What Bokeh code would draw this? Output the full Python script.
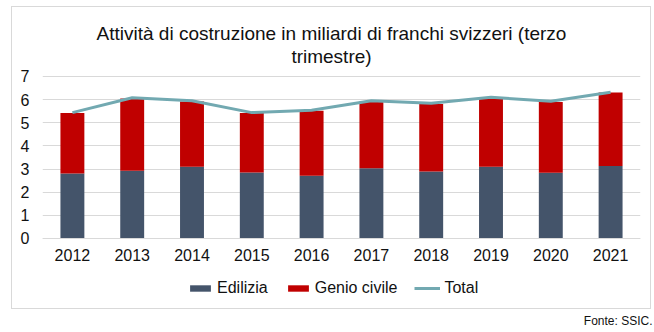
from bokeh.plotting import figure
from bokeh.models import (ColumnDataSource, Legend, LegendItem, FactorRange, Title, Label,
                          Range1d, InlineStyleSheet)
from bokeh.embed import file_html
from bokeh.resources import INLINE

years = ["2012", "2013", "2014", "2015", "2016", "2017", "2018", "2019", "2020", "2021"]
edilizia = [2.81, 2.93, 3.10, 2.85, 2.71, 3.03, 2.90, 3.10, 2.84, 3.13]
genio_civile = [2.61, 3.12, 2.82, 2.57, 2.81, 2.89, 2.91, 2.97, 3.06, 3.18]
total = [5.44, 6.08, 5.95, 5.44, 5.54, 5.95, 5.84, 6.10, 5.93, 6.32]
y_ticks = [0, 1, 2, 3, 4, 5, 6, 7]

title_lines = ["Attività di costruzione in miliardi di franchi svizzeri (terzo", "trimestre)"]
source_note = "Fonte: SSIC."

FONT = "Liberation Sans"
TXT = "#111111"

src = ColumnDataSource(dict(years=years, edilizia=edilizia, genio=genio_civile, total=total))

# frame spans canvas y 0..308 ; value 0 at y=238, value 7 at y=76
p = figure(width=654, height=332, x_range=FactorRange(*years), y_range=Range1d(-3.025, 10.284),
           output_backend="svg", toolbar_location=None, title=None,
           min_border_left=42, min_border_right=14, min_border_top=0, min_border_bottom=24)
p.background_fill_color = "white"
p.border_fill_color = "white"
p.outline_line_color = None
p.stylesheets = [InlineStyleSheet(css=(
    ":host::after { content: ''; position: absolute; left: 11px; top: 6px; "
    "width: 638px; height: 301px; border: 1px solid #D9D9D9; box-sizing: content-box; "
    "pointer-events: none; }"))]

r_stack = p.vbar_stack(["edilizia", "genio"], x="years", width=0.4, source=src,
                       color=["#44546A", "#C00000"], line_color=None)
r_line = p.line(x="years", y="total", source=src, line_color="#72A9B1", line_width=3)

p.xgrid.grid_line_color = None
p.ygrid.grid_line_color = "#D9D9D9"
p.ygrid.grid_line_width = 1
p.yaxis.ticker = y_ticks
p.yaxis.axis_line_color = None
p.yaxis.major_tick_line_color = None
p.yaxis.minor_tick_line_color = None
p.yaxis.major_tick_out = 0
p.yaxis.major_tick_in = 0
p.yaxis.major_label_standoff = 13
p.xaxis.fixed_location = 0
p.xaxis.axis_line_color = "#D9D9D9"
p.xaxis.major_tick_line_color = None
p.xaxis.major_tick_out = 0
p.xaxis.major_tick_in = 0
p.xaxis.major_label_standoff = 11
for ax in (p.xaxis, p.yaxis):
    ax.major_label_text_font = FONT
    ax.major_label_text_font_size = "16px"
    ax.major_label_text_color = TXT

legend = Legend(items=[LegendItem(label="Edilizia", renderers=[r_stack[0]]),
                       LegendItem(label="Genio civile", renderers=[r_stack[1]]),
                       LegendItem(label="Total", renderers=[r_line])],
                orientation="horizontal", location=(145, 11),
                border_line_color=None, background_fill_alpha=0,
                padding=0, margin=0, spacing=17, label_standoff=4,
                glyph_width=26, glyph_height=8,
                label_text_font=FONT, label_text_font_size="16px", label_text_color=TXT)
p.add_layout(legend, "center")

for t, y in zip(title_lines, [275, 252]):
    p.add_layout(Label(x=289, y=y, x_units="screen", y_units="screen", text=t,
                       text_align="center", text_baseline="alphabetic",
                       text_font=FONT, text_font_size="19px", text_color=TXT))

p.add_layout(Title(text=source_note, align="right", offset=-12, standoff=6,
                   text_font=FONT, text_font_size="12px", text_font_style="normal",
                   text_color=TXT), "below")

open("out.html", "w").write(file_html(p, INLINE))
